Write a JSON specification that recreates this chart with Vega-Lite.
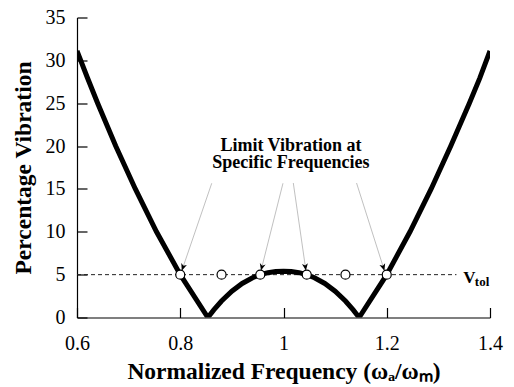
{
  "$schema": "https://vega.github.io/schema/vega-lite/v6.json",
  "width": 413,
  "height": 300,
  "autosize": {"type": "none"},
  "padding": {"left": 77, "top": 17.5, "right": 24, "bottom": 69.5},
  "background": "white",
  "config": {
    "view": {"stroke": null},
    "font": "Liberation Serif",
    "axis": {
      "grid": false,
      "domainColor": "black",
      "domainWidth": 1.2,
      "tickColor": "black",
      "tickWidth": 1.2,
      "tickSize": -10,
      "labelColor": "black",
      "labelFont": "Liberation Serif",
      "labelFontSize": 20,
      "labelFlush": false,
      "labelOverlap": false,
      "titleColor": "black",
      "titleFont": "Liberation Serif",
      "titleFontSize": 23.5,
      "titleFontWeight": "bold"
    }
  },
  "datasets": {
    "curve": [
      {"x": 0.6, "y": 31.1}, {"x": 0.62, "y": 28.0}, {"x": 0.64, "y": 25}, {"x": 0.675, "y": 20},
      {"x": 0.713, "y": 15}, {"x": 0.754, "y": 10}, {"x": 0.8, "y": 5}, {"x": 0.8535, "y": 0},
      {"x": 0.865, "y": 0.89}, {"x": 0.88, "y": 1.92}, {"x": 0.9, "y": 3.07}, {"x": 0.92, "y": 3.97},
      {"x": 0.94, "y": 4.64}, {"x": 0.955, "y": 5.0}, {"x": 0.97, "y": 5.23}, {"x": 0.985, "y": 5.36},
      {"x": 1.0, "y": 5.4}, {"x": 1.015, "y": 5.36}, {"x": 1.03, "y": 5.23}, {"x": 1.045, "y": 5.0},
      {"x": 1.06, "y": 4.64}, {"x": 1.08, "y": 3.97}, {"x": 1.1, "y": 3.07}, {"x": 1.12, "y": 1.92},
      {"x": 1.135, "y": 0.89}, {"x": 1.1465, "y": 0}, {"x": 1.2, "y": 5}, {"x": 1.245, "y": 10},
      {"x": 1.286, "y": 15}, {"x": 1.324, "y": 20}, {"x": 1.36, "y": 25}, {"x": 1.38, "y": 27.9},
      {"x": 1.4, "y": 31.1}
    ],
    "tolerance": [{"x": 0.6, "x2": 1.335, "y": 5}],
    "markers": [
      {"x": 0.8, "y": 5}, {"x": 0.88, "y": 5}, {"x": 0.955, "y": 5},
      {"x": 1.045, "y": 5}, {"x": 1.12, "y": 5}, {"x": 1.2, "y": 5}
    ],
    "arrows": [
      {"x": 0.861, "y": 15.66, "x2": 0.803, "y2": 5.46, "angle": 18.9},
      {"x": 0.999, "y": 15.66, "x2": 0.9564, "y2": 5.47, "angle": 14.3},
      {"x": 1.019, "y": 15.69, "x2": 1.0434, "y2": 5.48, "angle": 351.7},
      {"x": 1.1415, "y": 15.69, "x2": 1.1955, "y2": 5.46, "angle": 342.3}
    ],
    "notes": [
      {"x": 1.0143, "y": 19.45, "t": "Limit Vibration at\nSpecific Frequencies"}
    ]
  },
  "layer": [
    {
      "data": {"name": "tolerance"},
      "mark": {"type": "rule", "color": "#222", "strokeWidth": 1, "strokeDash": [4, 3]},
      "encoding": {
        "x": {
          "field": "x", "type": "quantitative",
          "scale": {"domain": [0.6, 1.4], "nice": false, "zero": false},
          "axis": {
            "values": [0.6, 0.8, 1, 1.2, 1.4],
            "format": "~g",
            "labelPadding": 26,
            "title": "Normalized Frequency (ωₐ/ωₘ)",
            "titleBaseline": "alphabetic",
            "titleY": 61
          }
        },
        "x2": {"field": "x2"},
        "y": {
          "field": "y", "type": "quantitative",
          "scale": {"domain": [0, 35], "nice": false},
          "axis": {
            "values": [0, 5, 10, 15, 20, 25, 30, 35],
            "format": "d",
            "labelPadding": 22,
            "title": "Percentage Vibration",
            "titleBaseline": "alphabetic",
            "titleX": -47,
            "titleY": 150
          }
        }
      }
    },
    {
      "data": {"name": "curve"},
      "mark": {"type": "line", "color": "black", "strokeWidth": 5, "clip": true},
      "encoding": {
        "x": {"field": "x", "type": "quantitative"},
        "y": {"field": "y", "type": "quantitative"}
      }
    },
    {
      "data": {"name": "arrows"},
      "mark": {"type": "rule", "color": "#b0b0b0", "strokeWidth": 0.8},
      "encoding": {
        "x": {"field": "x", "type": "quantitative"},
        "y": {"field": "y", "type": "quantitative"},
        "x2": {"field": "x2"},
        "y2": {"field": "y2"}
      }
    },
    {
      "data": {"name": "markers"},
      "mark": {"type": "point", "shape": "circle", "filled": true, "fill": "white", "stroke": "black", "strokeWidth": 1.2, "size": 81, "opacity": 1},
      "encoding": {
        "x": {"field": "x", "type": "quantitative"},
        "y": {"field": "y", "type": "quantitative"}
      }
    },
    {
      "data": {"name": "arrows"},
      "mark": {"type": "point", "shape": "M0,0L-1.1,-2.6L0,-1.9L1.1,-2.6Z", "filled": true, "color": "black", "size": 29, "opacity": 1},
      "encoding": {
        "x": {"field": "x2", "type": "quantitative"},
        "y": {"field": "y2", "type": "quantitative"},
        "angle": {"field": "angle", "type": "quantitative", "scale": null}
      }
    },
    {
      "data": {"name": "notes"},
      "mark": {"type": "text", "font": "Liberation Serif", "fontSize": 18, "fontWeight": "bold", "align": "center", "baseline": "alphabetic", "lineBreak": "\n", "lineHeight": 17.5, "color": "black"},
      "encoding": {
        "x": {"field": "x", "type": "quantitative"},
        "y": {"field": "y", "type": "quantitative"},
        "text": {"field": "t"}
      }
    },
    {
      "data": {"values": [{"x": 1.348, "y": 5, "t": "V"}]},
      "mark": {"type": "text", "font": "Liberation Serif", "fontSize": 17, "fontWeight": "bold", "align": "left", "baseline": "alphabetic", "dy": 8, "color": "black"},
      "encoding": {
        "x": {"field": "x", "type": "quantitative"},
        "y": {"field": "y", "type": "quantitative"},
        "text": {"field": "t"}
      }
    },
    {
      "data": {"values": [{"x": 1.3706, "y": 5, "t": "tol"}]},
      "mark": {"type": "text", "font": "Liberation Serif", "fontSize": 13, "fontWeight": "bold", "align": "left", "baseline": "alphabetic", "dy": 11, "color": "black"},
      "encoding": {
        "x": {"field": "x", "type": "quantitative"},
        "y": {"field": "y", "type": "quantitative"},
        "text": {"field": "t"}
      }
    }
  ]
}
